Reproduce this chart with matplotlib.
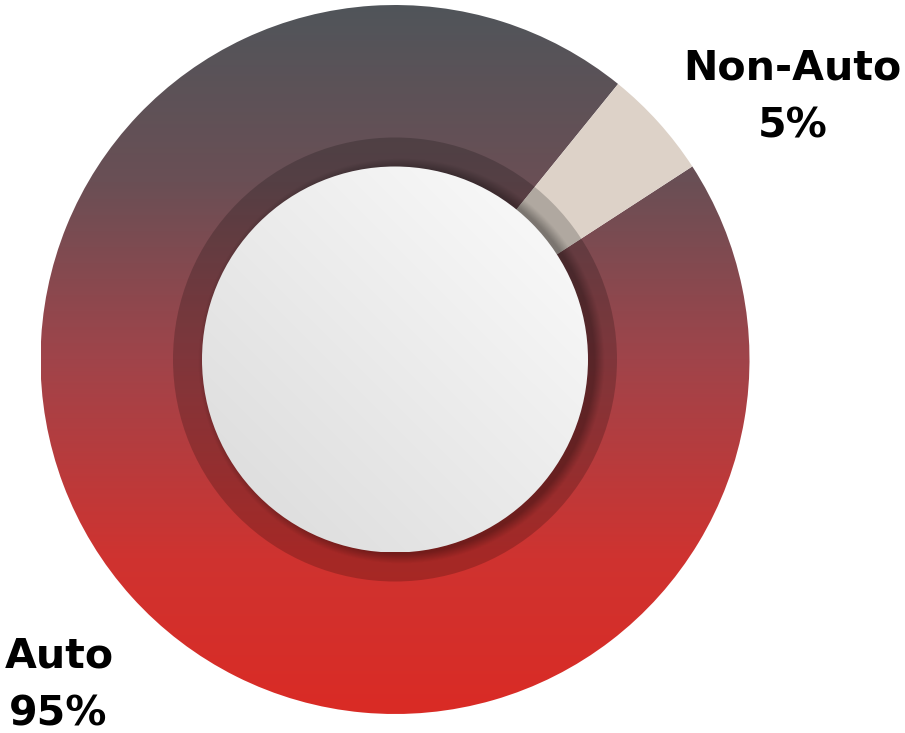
import numpy as np
import matplotlib
matplotlib.use("Agg")
import matplotlib.pyplot as plt
from matplotlib.patches import Circle
from matplotlib.colors import to_rgb

# Share of volume
categories = ["Auto", "Non-Auto"]
shares = [95, 5]
labels = ["Auto\n95%", "Non-Auto\n5%"]

W, H = 905, 733
fig = plt.figure(figsize=(W / 100, H / 100), dpi=100)
ax = fig.add_axes([0, 0, 1, 1])

cx, cy = 395.0, H - 359.5
r_out = 354.5
r_ring = 222.0
r_in = 193.0

wedges, _ = ax.pie(shares, startangle=51, counterclock=True,
                   center=(cx, cy), radius=r_out,
                   colors=["none", "#ddd2c8"],
                   wedgeprops=dict(linewidth=0))

# Vertical gray-to-red fill for the Auto wedge
stops = [(0.0, "#50555a"), (0.25, "#6a4f55"), (0.5, "#a0444a"),
         (0.78, "#cf3330"), (1.0, "#da2b25")]
n = 512
t = np.linspace(0, 1, n)
pos = [s[0] for s in stops]
cols = np.array([to_rgb(s[1]) for s in stops])
grad = np.stack([np.interp(t, pos, cols[:, i]) for i in range(3)], axis=-1)
grad = grad[:, None, :]
im = ax.imshow(grad, extent=[cx - r_out, cx + r_out, cy - r_out, cy + r_out],
               origin="upper", aspect="auto", interpolation="bilinear", zorder=1)
im.set_clip_path(wedges[0])
wedges[1].set_zorder(2)

# Dark translucent ring under the hub
ax.add_patch(Circle((cx, cy), r_ring, facecolor="black", alpha=0.2,
                    linewidth=0, zorder=3))

# Soft shadow cast by the hub onto the ring
ext = r_ring + 2
xs = np.linspace(cx - ext, cx + ext, 600)
ys = np.linspace(cy - ext, cy + ext, 600)
X, Y = np.meshgrid(xs, ys)
d = np.hypot(X - (cx + 6), Y - (cy - 2)) - r_in
sh_alpha = 0.3 * np.clip(1 - d / 10.0, 0, 1)
shadow = np.zeros(X.shape + (4,))
shadow[..., 3] = sh_alpha
sh = ax.imshow(shadow, extent=[cx - ext, cx + ext, cy - ext, cy + ext],
               origin="lower", aspect="auto", interpolation="bilinear", zorder=4)
ring_clip = Circle((cx, cy), r_ring, transform=ax.transData)
sh.set_clip_path(ring_clip)

# Hub with a diagonal light gradient
hx = np.linspace(0, 1, 300)
HX, HY = np.meshgrid(hx, hx)
tt = (HX + HY) / 2.0  # 0 bottom-left, 1 top-right
c0 = np.array(to_rgb("#dadada"))
c1 = np.array(to_rgb("#fcfcfc"))
hub = c0 + (c1 - c0) * tt[..., None]
hub_im = ax.imshow(hub, extent=[cx - r_in, cx + r_in, cy - r_in, cy + r_in],
                   origin="lower", aspect="auto", interpolation="bilinear", zorder=5)
hub_clip = Circle((cx, cy), r_in, transform=ax.transData)
hub_im.set_clip_path(hub_clip)

# Labels
font = dict(family=["DejaVu Sans"], fontweight="bold", fontsize=29.6,
            color="black", ha="center", va="baseline")
auto_lines = labels[0].split("\n")
non_lines = labels[1].split("\n")
ax.text(792.5, H - 80, non_lines[0], **font)
ax.text(792.5, H - 137, non_lines[1], **font)
ax.text(59.5, H - 668, auto_lines[0], **font)
ax.text(58.0, H - 725, auto_lines[1], **font)

ax.set_xlim(0, W)
ax.set_ylim(0, H)
ax.set_aspect("auto")
ax.axis("off")

fig.savefig("out.png", dpi=100)
